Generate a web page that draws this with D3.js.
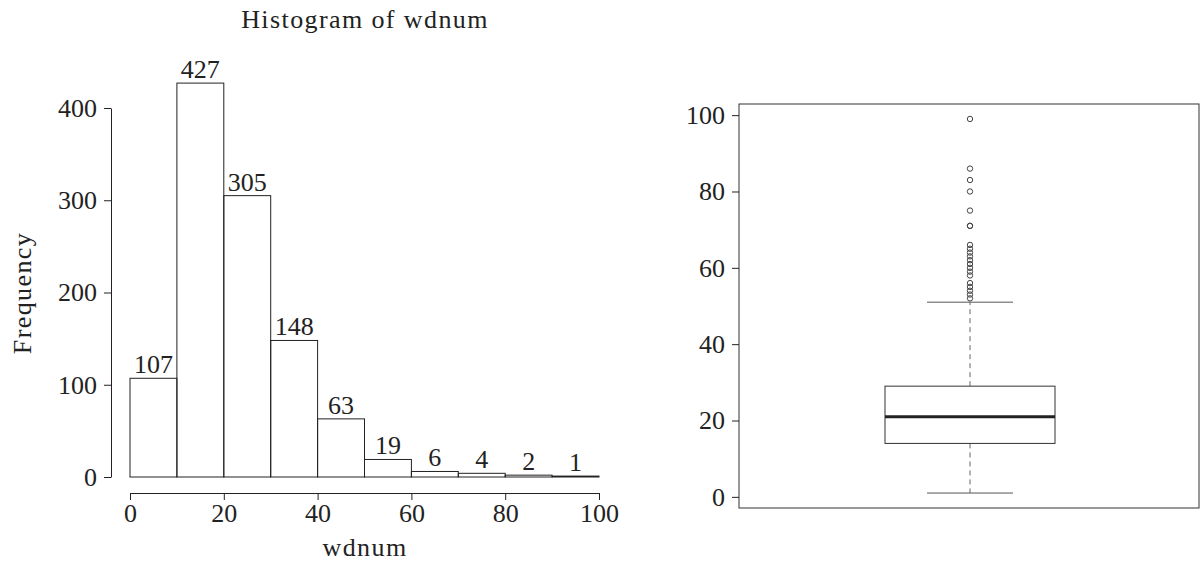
<!DOCTYPE html>
<html>
<head>
<meta charset="utf-8">
<script src="https://cdn.jsdelivr.net/npm/d3@7"></script>
<style>
  body { margin: 0; background: #fff; }
  svg { display: block; }
  text { font-family: "Liberation Serif", "DejaVu Serif", serif; fill: #222; }
  .axis text { font-size: 26px; }
  .axis path, .axis line { stroke: #222; stroke-width: 1; }
  .label { font-size: 26px; letter-spacing: 1.4px; }
</style>
</head>
<body>
<div id="chart"></div>
<script>
// histogram bins and counts
const binEdges = [0, 10, 20, 30, 40, 50, 60, 70, 80, 90, 100];
const counts = [107, 427, 305, 148, 63, 19, 6, 4, 2, 1];
const histXTicks = [0, 20, 40, 60, 80, 100];
const histYTicks = [0, 100, 200, 300, 400];

// boxplot summary
const boxStats = { lower: 1, q1: 14, median: 21, q3: 29, upper: 51 };
const outliers = [52, 53, 54, 55, 56, 58, 59, 60, 61, 62, 63, 64, 65, 66, 71, 71, 75, 80, 83, 86, 99];
const boxYTicks = [0, 20, 40, 60, 80, 100];

const W = 1201, H = 563;
const svg = d3.select("#chart").append("svg").attr("width", W).attr("height", H);

// ---------- Histogram ----------
const hx = d3.scaleLinear().domain([0, 100]).range([130, 599]);
const hy = d3.scaleLinear().domain([0, 400]).range([477, 108]);
const bins = counts.map((c, i) => ({ x0: binEdges[i], x1: binEdges[i + 1], n: c }));

const hist = svg.append("g");
hist.selectAll("rect.bar")
  .data(bins)
  .enter()
  .append("rect")
  .attr("class", "bar")
  .attr("x", d => hx(d.x0))
  .attr("y", d => hy(d.n))
  .attr("width", d => hx(d.x1) - hx(d.x0))
  .attr("height", d => hy(0) - hy(d.n))
  .attr("fill", "none")
  .attr("stroke", "#222")
  .attr("stroke-width", 1);

hist.selectAll("text.lab")
  .data(bins)
  .enter()
  .append("text")
  .attr("class", "lab")
  .attr("x", d => (hx(d.x0) + hx(d.x1)) / 2)
  .attr("y", d => hy(d.n) - 5)
  .attr("text-anchor", "middle")
  .style("font-size", "26px")
  .text(d => d.n);

hist.append("g")
  .attr("class", "axis")
  .attr("transform", "translate(0,493)")
  .call(d3.axisBottom(hx).tickValues(histXTicks).tickSize(7).tickSizeOuter(0).tickPadding(4));

hist.append("g")
  .attr("class", "axis")
  .attr("transform", "translate(111,0)")
  .call(d3.axisLeft(hy).tickValues(histYTicks).tickSize(7).tickSizeOuter(0).tickPadding(7));

svg.append("text")
  .attr("class", "label")
  .attr("x", 365).attr("y", 28)
  .attr("text-anchor", "middle")
  .text("Histogram of wdnum");

svg.append("text")
  .attr("class", "label")
  .attr("x", 365).attr("y", 556)
  .attr("text-anchor", "middle")
  .text("wdnum");

svg.append("text")
  .attr("class", "label")
  .attr("transform", "translate(31,293) rotate(-90)")
  .attr("text-anchor", "middle")
  .text("Frequency");

// ---------- Boxplot ----------
const ext = (99 - 1) * 0.04;
const by = d3.scaleLinear().domain([1 - ext, 99 + ext]).range([508, 104]);
const cx = 970, boxHalf = 85, capHalf = 43;
const box = svg.append("g");

box.append("rect")
  .attr("x", 739).attr("y", 104)
  .attr("width", 460).attr("height", 404)
  .attr("fill", "none").attr("stroke", "#333").attr("stroke-width", 1);

box.append("g")
  .attr("class", "axis")
  .attr("transform", "translate(739,0)")
  .call(d3.axisLeft(by).tickValues(boxYTicks).tickSize(7).tickSizeOuter(0).tickPadding(7))
  .select(".domain").remove();

// whiskers
box.append("line")
  .attr("x1", cx).attr("x2", cx)
  .attr("y1", by(boxStats.q3)).attr("y2", by(boxStats.upper))
  .attr("stroke", "#666").attr("stroke-dasharray", "5,4");
box.append("line")
  .attr("x1", cx).attr("x2", cx)
  .attr("y1", by(boxStats.q1)).attr("y2", by(boxStats.lower))
  .attr("stroke", "#666").attr("stroke-dasharray", "5,4");
[boxStats.upper, boxStats.lower].forEach(v => {
  box.append("line")
    .attr("x1", cx - capHalf).attr("x2", cx + capHalf)
    .attr("y1", by(v)).attr("y2", by(v))
    .attr("stroke", "#555").attr("stroke-width", 1);
});

box.append("rect")
  .attr("x", cx - boxHalf).attr("y", by(boxStats.q3))
  .attr("width", boxHalf * 2).attr("height", by(boxStats.q1) - by(boxStats.q3))
  .attr("fill", "#fff").attr("stroke", "#333").attr("stroke-width", 1);

box.append("line")
  .attr("x1", cx - boxHalf).attr("x2", cx + boxHalf)
  .attr("y1", by(boxStats.median)).attr("y2", by(boxStats.median))
  .attr("stroke", "#222").attr("stroke-width", 3);

box.selectAll("circle")
  .data(outliers)
  .enter()
  .append("circle")
  .attr("cx", cx).attr("cy", d => by(d))
  .attr("r", 2.7)
  .attr("fill", "none").attr("stroke", "#444").attr("stroke-width", 1);
</script>
</body>
</html>
